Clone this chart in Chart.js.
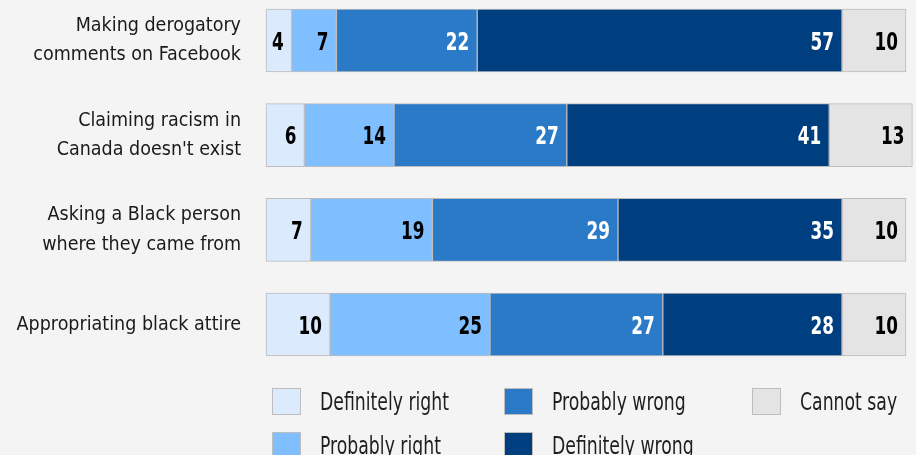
<!DOCTYPE html>
<html>
<head>
<meta charset="utf-8">
<script src="https://cdn.jsdelivr.net/npm/chart.js@4/dist/chart.umd.min.js"></script>
<style>
  html, body { margin: 0; padding: 0; background: #f4f4f4; }
  #wrap { position: relative; width: 916px; height: 455px; overflow: hidden; }
  #chart { position: absolute; left: 0; top: 0; }
  .lg-item { position: absolute; display: flex; align-items: center; height: 27px;
    font: 24px "DejaVu Sans Condensed", "Liberation Sans Narrow", sans-serif; color: #1e1e1e; white-space: nowrap; }
  .lg-box { width: 27px; height: 25px; border: 1px solid #bdbdbd; margin-right: 19px; flex: none; }
  .lg-item span { display: inline-block; transform: scaleX(0.8); transform-origin: left center; }
</style>
</head>
<body>
<div id="wrap">
  <canvas id="chart" width="916" height="455"></canvas>
  <div id="legend"></div>
</div>
<script>
// ── Data ──
const categories = [
  ['Making derogatory', 'comments on Facebook'],
  ['Claiming racism in', "Canada doesn't exist"],
  ['Asking a Black person', 'where they came from'],
  'Appropriating black attire'
];
const seriesNames = ['Definitely right', 'Probably right', 'Probably wrong', 'Definitely wrong', 'Cannot say'];
const definitelyRight = [4, 6, 7, 10];
const probablyRight   = [7, 14, 19, 25];
const probablyWrong   = [22, 27, 29, 27];
const definitelyWrong = [57, 41, 35, 28];
const cannotSay       = [10, 13, 10, 10];

const seriesColors = ['#dbeafc', '#80bfff', '#2b7ac7', '#003f7f', '#e4e4e4'];
const labelColors  = ['#000', '#000', '#fff', '#fff', '#000'];
const FONT = '"DejaVu Sans Condensed", "Liberation Sans Narrow", sans-serif';

const allSeries = [definitelyRight, probablyRight, probablyWrong, definitelyWrong, cannotSay];

// value labels, right aligned inside each segment (squeezed to look condensed)
const valueLabels = {
  id: 'valueLabels',
  afterDatasetsDraw(chart) {
    const ctx = chart.ctx;
    const sx = 0.78;
    ctx.save();
    ctx.font = 'bold 24px ' + FONT;
    ctx.textAlign = 'right';
    ctx.textBaseline = 'middle';
    ctx.scale(sx, 1);
    chart.data.datasets.forEach((ds, i) => {
      chart.getDatasetMeta(i).data.forEach((bar, j) => {
        ctx.fillStyle = labelColors[i];
        ctx.fillText(ds.data[j], (bar.x - 8) / sx, bar.y + 3);
      });
    });
    ctx.restore();
  }
};

new Chart(document.getElementById('chart'), {
  type: 'bar',
  data: {
    labels: categories,
    datasets: allSeries.map((d, i) => ({
      label: seriesNames[i],
      data: d,
      backgroundColor: seriesColors[i],
      borderColor: '#bcbcbc',
      borderWidth: 1,
      borderSkipped: false,
      barThickness: 63,
      clip: false
    }))
  },
  options: {
    indexAxis: 'y',
    responsive: false,
    animation: false,
    layout: { padding: { top: 40.5, bottom: 130.5, left: 0, right: 3.6 } },
    plugins: { legend: { display: false }, tooltip: { enabled: false } },
    scales: {
      x: { stacked: true, min: 0, max: 101, display: false },
      y: {
        stacked: true,
        offset: false,
        afterFit(scale) { scale.width = 266; },
        grid: { display: false, drawTicks: false },
        border: { display: false },
        ticks: {
          padding: 25,
          color: '#1a1a1a',
          font: { family: FONT, size: 19.5, lineHeight: 1.5 }
        }
      }
    }
  },
  plugins: [valueLabels]
});

// ── Legend (column-major, 3 columns) ──
const legendCols = [272, 504, 752];
const legendRows = [388, 432];
const legendEl = document.getElementById('legend');
seriesNames.forEach((name, i) => {
  const col = Math.floor(i / 2), row = i % 2;
  const item = document.createElement('div');
  item.className = 'lg-item';
  item.style.left = legendCols[col] + 'px';
  item.style.top = legendRows[row] + 'px';
  item.innerHTML = `<div class="lg-box" style="background:${seriesColors[i]}"></div><span>${name}</span>`;
  legendEl.appendChild(item);
});
</script>
</body>
</html>
